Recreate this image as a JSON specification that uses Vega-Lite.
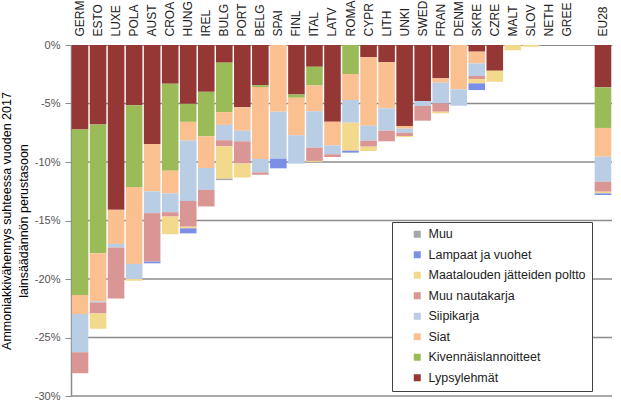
{
  "$schema": "https://vega.github.io/schema/vega-lite/v6.json",
  "width": 541,
  "height": 351,
  "autosize": "none",
  "padding": {"left": 71, "top": 45, "right": 9, "bottom": 9},
  "background": "white",
  "config": {
    "view": {"stroke": null},
    "font": "Liberation Sans"
  },
  "datasets": {
    "ruudukko": [
      {"arvo": -5}, {"arvo": -10}, {"arvo": -15}, {"arvo": -20}, {"arvo": -25}, {"arvo": -30}
    ],
    "palkit": [
      {"maa": "GERM", "lahde": "Lypsylehmät", "arvo": -7.23},
      {"maa": "GERM", "lahde": "Kivennäislannoitteet", "arvo": -14.14},
      {"maa": "GERM", "lahde": "Siat", "arvo": -1.63},
      {"maa": "GERM", "lahde": "Siipikarja", "arvo": -3.27},
      {"maa": "GERM", "lahde": "Muu nautakarja", "arvo": -1.79},
      {"maa": "ESTO", "lahde": "Lypsylehmät", "arvo": -6.8},
      {"maa": "ESTO", "lahde": "Kivennäislannoitteet", "arvo": -11.0},
      {"maa": "ESTO", "lahde": "Siat", "arvo": -4.1},
      {"maa": "ESTO", "lahde": "Siipikarja", "arvo": -0.1},
      {"maa": "ESTO", "lahde": "Muu nautakarja", "arvo": -0.95},
      {"maa": "ESTO", "lahde": "Maatalouden jätteiden poltto", "arvo": -1.3},
      {"maa": "LUXE", "lahde": "Lypsylehmät", "arvo": -14.09},
      {"maa": "LUXE", "lahde": "Siat", "arvo": -2.91},
      {"maa": "LUXE", "lahde": "Siipikarja", "arvo": -0.3},
      {"maa": "LUXE", "lahde": "Muu nautakarja", "arvo": -4.36},
      {"maa": "POLA", "lahde": "Lypsylehmät", "arvo": -5.14},
      {"maa": "POLA", "lahde": "Kivennäislannoitteet", "arvo": -7.0},
      {"maa": "POLA", "lahde": "Siat", "arvo": -6.57},
      {"maa": "POLA", "lahde": "Siipikarja", "arvo": -1.29},
      {"maa": "POLA", "lahde": "Maatalouden jätteiden poltto", "arvo": -0.15},
      {"maa": "AUST", "lahde": "Lypsylehmät", "arvo": -8.46},
      {"maa": "AUST", "lahde": "Siat", "arvo": -4.05},
      {"maa": "AUST", "lahde": "Siipikarja", "arvo": -1.86},
      {"maa": "AUST", "lahde": "Muu nautakarja", "arvo": -4.14},
      {"maa": "AUST", "lahde": "Lampaat ja vuohet", "arvo": -0.15},
      {"maa": "CROA", "lahde": "Lypsylehmät", "arvo": -3.31},
      {"maa": "CROA", "lahde": "Kivennäislannoitteet", "arvo": -7.43},
      {"maa": "CROA", "lahde": "Siat", "arvo": -1.95},
      {"maa": "CROA", "lahde": "Siipikarja", "arvo": -1.6},
      {"maa": "CROA", "lahde": "Muu nautakarja", "arvo": -0.37},
      {"maa": "CROA", "lahde": "Maatalouden jätteiden poltto", "arvo": -1.51},
      {"maa": "HUNG", "lahde": "Lypsylehmät", "arvo": -5.03},
      {"maa": "HUNG", "lahde": "Kivennäislannoitteet", "arvo": -1.54},
      {"maa": "HUNG", "lahde": "Siat", "arvo": -1.6},
      {"maa": "HUNG", "lahde": "Siipikarja", "arvo": -5.16},
      {"maa": "HUNG", "lahde": "Muu nautakarja", "arvo": -2.2},
      {"maa": "HUNG", "lahde": "Maatalouden jätteiden poltto", "arvo": -0.14},
      {"maa": "HUNG", "lahde": "Lampaat ja vuohet", "arvo": -0.43},
      {"maa": "IREL", "lahde": "Lypsylehmät", "arvo": -4.0},
      {"maa": "IREL", "lahde": "Kivennäislannoitteet", "arvo": -3.8},
      {"maa": "IREL", "lahde": "Siat", "arvo": -2.71},
      {"maa": "IREL", "lahde": "Siipikarja", "arvo": -1.88},
      {"maa": "IREL", "lahde": "Muu nautakarja", "arvo": -1.41},
      {"maa": "BULG", "lahde": "Lypsylehmät", "arvo": -1.51},
      {"maa": "BULG", "lahde": "Kivennäislannoitteet", "arvo": -4.23},
      {"maa": "BULG", "lahde": "Siat", "arvo": -1.09},
      {"maa": "BULG", "lahde": "Siipikarja", "arvo": -1.31},
      {"maa": "BULG", "lahde": "Muu nautakarja", "arvo": -0.52},
      {"maa": "BULG", "lahde": "Maatalouden jätteiden poltto", "arvo": -2.77},
      {"maa": "BULG", "lahde": "Muu", "arvo": -0.12},
      {"maa": "PORT", "lahde": "Lypsylehmät", "arvo": -5.33},
      {"maa": "PORT", "lahde": "Siat", "arvo": -2.0},
      {"maa": "PORT", "lahde": "Siipikarja", "arvo": -0.9},
      {"maa": "PORT", "lahde": "Muu nautakarja", "arvo": -1.9},
      {"maa": "PORT", "lahde": "Maatalouden jätteiden poltto", "arvo": -1.2},
      {"maa": "BELG", "lahde": "Lypsylehmät", "arvo": -3.43},
      {"maa": "BELG", "lahde": "Kivennäislannoitteet", "arvo": -0.17},
      {"maa": "BELG", "lahde": "Siat", "arvo": -6.14},
      {"maa": "BELG", "lahde": "Siipikarja", "arvo": -1.15},
      {"maa": "BELG", "lahde": "Muu nautakarja", "arvo": -0.2},
      {"maa": "SPAI", "lahde": "Siat", "arvo": -5.71},
      {"maa": "SPAI", "lahde": "Siipikarja", "arvo": -4.0},
      {"maa": "SPAI", "lahde": "Lampaat ja vuohet", "arvo": -0.83},
      {"maa": "FINL", "lahde": "Lypsylehmät", "arvo": -4.23},
      {"maa": "FINL", "lahde": "Kivennäislannoitteet", "arvo": -0.28},
      {"maa": "FINL", "lahde": "Siat", "arvo": -3.2},
      {"maa": "FINL", "lahde": "Siipikarja", "arvo": -2.43},
      {"maa": "ITAL", "lahde": "Lypsylehmät", "arvo": -1.86},
      {"maa": "ITAL", "lahde": "Kivennäislannoitteet", "arvo": -1.6},
      {"maa": "ITAL", "lahde": "Siat", "arvo": -2.2},
      {"maa": "ITAL", "lahde": "Siipikarja", "arvo": -3.11},
      {"maa": "ITAL", "lahde": "Muu nautakarja", "arvo": -1.14},
      {"maa": "ITAL", "lahde": "Maatalouden jätteiden poltto", "arvo": -0.08},
      {"maa": "LATV", "lahde": "Lypsylehmät", "arvo": -6.55},
      {"maa": "LATV", "lahde": "Siat", "arvo": -2.05},
      {"maa": "LATV", "lahde": "Siipikarja", "arvo": -0.74},
      {"maa": "LATV", "lahde": "Muu nautakarja", "arvo": -0.23},
      {"maa": "ROMA", "lahde": "Kivennäislannoitteet", "arvo": -2.48},
      {"maa": "ROMA", "lahde": "Siat", "arvo": -2.22},
      {"maa": "ROMA", "lahde": "Siipikarja", "arvo": -1.94},
      {"maa": "ROMA", "lahde": "Maatalouden jätteiden poltto", "arvo": -2.39},
      {"maa": "ROMA", "lahde": "Lampaat ja vuohet", "arvo": -0.17},
      {"maa": "CYPR", "lahde": "Lypsylehmät", "arvo": -1.05},
      {"maa": "CYPR", "lahde": "Siat", "arvo": -5.85},
      {"maa": "CYPR", "lahde": "Siipikarja", "arvo": -1.28},
      {"maa": "CYPR", "lahde": "Muu nautakarja", "arvo": -0.51},
      {"maa": "CYPR", "lahde": "Maatalouden jätteiden poltto", "arvo": -0.37},
      {"maa": "LITH", "lahde": "Lypsylehmät", "arvo": -1.48},
      {"maa": "LITH", "lahde": "Siat", "arvo": -3.93},
      {"maa": "LITH", "lahde": "Siipikarja", "arvo": -1.91},
      {"maa": "LITH", "lahde": "Muu nautakarja", "arvo": -0.91},
      {"maa": "UNKI", "lahde": "Lypsylehmät", "arvo": -6.92},
      {"maa": "UNKI", "lahde": "Siat", "arvo": -0.23},
      {"maa": "UNKI", "lahde": "Siipikarja", "arvo": -0.35},
      {"maa": "UNKI", "lahde": "Muu nautakarja", "arvo": -0.28},
      {"maa": "UNKI", "lahde": "Maatalouden jätteiden poltto", "arvo": -0.08},
      {"maa": "SWED", "lahde": "Lypsylehmät", "arvo": -4.79},
      {"maa": "SWED", "lahde": "Siipikarja", "arvo": -0.42},
      {"maa": "SWED", "lahde": "Muu nautakarja", "arvo": -1.26},
      {"maa": "FRAN", "lahde": "Lypsylehmät", "arvo": -2.85},
      {"maa": "FRAN", "lahde": "Siat", "arvo": -0.37},
      {"maa": "FRAN", "lahde": "Siipikarja", "arvo": -1.77},
      {"maa": "FRAN", "lahde": "Muu nautakarja", "arvo": -0.71},
      {"maa": "FRAN", "lahde": "Maatalouden jätteiden poltto", "arvo": -0.14},
      {"maa": "DENM", "lahde": "Siat", "arvo": -3.79},
      {"maa": "DENM", "lahde": "Siipikarja", "arvo": -1.4},
      {"maa": "SKRE", "lahde": "Lypsylehmät", "arvo": -0.57},
      {"maa": "SKRE", "lahde": "Siat", "arvo": -1.0},
      {"maa": "SKRE", "lahde": "Siipikarja", "arvo": -1.08},
      {"maa": "SKRE", "lahde": "Muu nautakarja", "arvo": -0.26},
      {"maa": "SKRE", "lahde": "Maatalouden jätteiden poltto", "arvo": -0.37},
      {"maa": "SKRE", "lahde": "Lampaat ja vuohet", "arvo": -0.57},
      {"maa": "CZRE", "lahde": "Lypsylehmät", "arvo": -2.2},
      {"maa": "CZRE", "lahde": "Maatalouden jätteiden poltto", "arvo": -0.94},
      {"maa": "MALT", "lahde": "Maatalouden jätteiden poltto", "arvo": -0.45},
      {"maa": "SLOV", "lahde": "Maatalouden jätteiden poltto", "arvo": -0.15},
      {"maa": "NETH", "lahde": "Lypsylehmät", "arvo": 0},
      {"maa": "GREE", "lahde": "Lypsylehmät", "arvo": 0},
      {"maa": "EU28", "lahde": "Lypsylehmät", "arvo": -3.62},
      {"maa": "EU28", "lahde": "Kivennäislannoitteet", "arvo": -3.47},
      {"maa": "EU28", "lahde": "Siat", "arvo": -2.45},
      {"maa": "EU28", "lahde": "Siipikarja", "arvo": -2.14},
      {"maa": "EU28", "lahde": "Muu nautakarja", "arvo": -0.86},
      {"maa": "EU28", "lahde": "Maatalouden jätteiden poltto", "arvo": -0.14},
      {"maa": "EU28", "lahde": "Lampaat ja vuohet", "arvo": -0.14}
    ]
  },
  "layer": [
    {
      "data": {"name": "ruudukko"},
      "mark": {"type": "rule", "color": "#8c8c8c", "strokeWidth": 1.5},
      "encoding": {
        "y": {"field": "arvo", "type": "quantitative"}
      }
    },
    {
      "data": {"name": "palkit"},
      "transform": [
        {"calculate": "indexof(['Muu', 'Lampaat ja vuohet', 'Maatalouden jätteiden poltto', 'Muu nautakarja', 'Siipikarja', 'Siat', 'Kivennäislannoitteet', 'Lypsylehmät'], datum.lahde)", "as": "jarjestys"}
      ],
      "mark": {"type": "bar"},
      "encoding": {
        "x": {
          "field": "maa",
          "type": "nominal",
          "scale": {
            "domain": ["GERM", "ESTO", "LUXE", "POLA", "AUST", "CROA", "HUNG", "IREL", "BULG", "PORT", "BELG", "SPAI", "FINL", "ITAL", "LATV", "ROMA", "CYPR", "LITH", "UNKI", "SWED", "FRAN", "DENM", "SKRE", "CZRE", "MALT", "SLOV", "NETH", "GREE", " ", "EU28"],
            "paddingInner": 0.08,
            "paddingOuter": 0.04
          },
          "axis": {
            "orient": "top",
            "title": null,
            "labelAngle": -90,
            "ticks": false,
            "labelPadding": 9,
            "labelFontSize": 12,
            "labelColor": "#222222",
            "domainColor": "#8c8c8c",
            "grid": false
          }
        },
        "y": {
          "field": "arvo",
          "type": "quantitative",
          "stack": "zero",
          "scale": {"domain": [-30, 0], "nice": false},
          "axis": {
            "values": [0, -5, -10, -15, -20, -25, -30],
            "labelExpr": "datum.value + '%'",
            "labelFontSize": 11,
            "labelColor": "#555555",
            "tickSize": 6,
            "tickColor": "#8c8c8c",
            "labelPadding": 5,
            "domain": true,
            "domainColor": "#8c8c8c",
            "domainWidth": 1.5,
            "grid": false,
            "title": ["Ammoniakkivähennys suhteessa vuoden 2017", "lainsäädännön perustasoon"],
            "titleFontSize": 12.5,
            "titleFontWeight": "normal",
            "titleColor": "#000000",
            "titleLineHeight": 17,
            "titlePadding": 4
          }
        },
        "color": {
          "field": "lahde",
          "type": "nominal",
          "scale": {
            "domain": ["Muu", "Lampaat ja vuohet", "Maatalouden jätteiden poltto", "Muu nautakarja", "Siipikarja", "Siat", "Kivennäislannoitteet", "Lypsylehmät"],
            "range": ["#a6a6a6", "#7b8fe6", "#f3d98b", "#d99694", "#b9cde5", "#fac090", "#9bbb59", "#953735"]
          },
          "legend": {
            "orient": "none",
            "legendX": 321,
            "legendY": 177,
            "title": null,
            "symbolType": "square",
            "symbolSize": 49,
            "symbolStrokeWidth": 0,
            "symbolOffset": 13,
            "labelFontSize": 12.5,
            "labelColor": "#222222",
            "labelOffset": 5,
            "rowPadding": 7.5,
            "padding": 6,
            "fillColor": "white",
            "strokeColor": "#404040"
          }
        },
        "order": {"field": "jarjestys", "type": "quantitative", "sort": "descending"}
      }
    }
  ]
}
